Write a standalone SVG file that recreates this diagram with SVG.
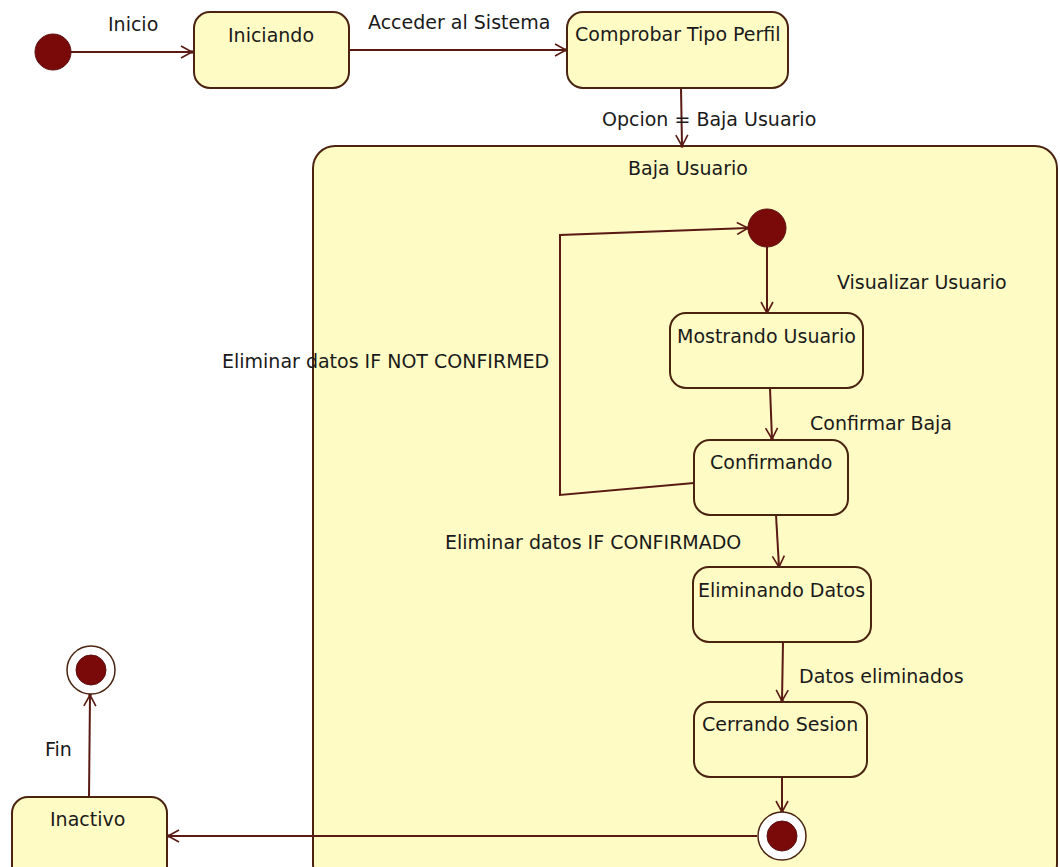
<svg xmlns="http://www.w3.org/2000/svg" width="1060" height="867" viewBox="0 0 1060 867">
<defs>
<style>
.st{fill:#FFFBC4;stroke:#4a2410;stroke-width:2}
.cmp{fill:#FFFBC4;stroke:#4a2410;stroke-width:2}
.t{font-family:"DejaVu Sans",Verdana,sans-serif;font-size:19px;fill:#1a1a1a}
.c{fill:none;stroke:#5a1a14;stroke-width:2}
.dot{fill:#7a0a0a;stroke:#5a1010;stroke-width:1}
.ring{fill:#ffffff;stroke:#4a2410;stroke-width:1.5}
</style>
<marker id="ah" viewBox="-12 -7 14 14" refX="0" refY="0" markerWidth="14" markerHeight="14" markerUnits="userSpaceOnUse" orient="auto">
<path d="M-11,-6 L0,0 L-11,6" fill="none" stroke="#5a1a14" stroke-width="1.6"/>
<circle cx="0" cy="0" r="1.8" fill="#5a1a14"/>
</marker>
</defs>
<rect width="1060" height="867" fill="#ffffff"/>

<g id="composite-baja-usuario">
<rect class="cmp" x="313" y="146" width="744" height="740" rx="22"/>
<text class="t" x="628" y="175">Baja Usuario</text>
</g>

<g id="connectors">
<path class="c" d="M71,52 L192,52" marker-end="url(#ah)"/>
<text class="t" x="108" y="31">Inicio</text>
<path class="c" d="M349,50 L566,50" marker-end="url(#ah)"/>
<text class="t" x="368" y="29">Acceder al Sistema</text>
<path class="c" d="M681,88 L682,146" marker-end="url(#ah)"/>
<text class="t" x="602" y="126">Opcion = Baja Usuario</text>
<path class="c" d="M767,247 L767,313" marker-end="url(#ah)"/>
<text class="t" x="837" y="289">Visualizar Usuario</text>
<path class="c" d="M770,388 L772,439" marker-end="url(#ah)"/>
<text class="t" x="810" y="430">Confirmar Baja</text>
<path class="c" d="M694,483 L560,495 L560,235 L748,228" marker-end="url(#ah)"/>
<text class="t" x="222" y="368">Eliminar datos IF NOT CONFIRMED</text>
<path class="c" d="M776,515 L779,567" marker-end="url(#ah)"/>
<text class="t" x="445" y="549">Eliminar datos IF CONFIRMADO</text>
<path class="c" d="M783,642 L782,701" marker-end="url(#ah)"/>
<text class="t" x="799" y="683">Datos eliminados</text>
<path class="c" d="M782,777 L782,812" marker-end="url(#ah)"/>
<path class="c" d="M757,836 L168,836" marker-end="url(#ah)"/>
<path class="c" d="M89,797 L90,695" marker-end="url(#ah)"/>
<text class="t" x="45" y="756">Fin</text>
</g>

<g id="initial">
<circle class="dot" cx="53" cy="52" r="18"/>
</g>

<g id="iniciando">
<rect class="st" x="194" y="12" width="155" height="76" rx="16"/>
<text class="t" x="228" y="42">Iniciando</text>
</g>

<g id="comprobar-tipo-perfil">
<rect class="st" x="567" y="12" width="221" height="76" rx="16"/>
<text class="t" x="575" y="41">Comprobar Tipo Perfil</text>
</g>

<g id="inner-initial">
<circle class="dot" cx="767" cy="228" r="19"/>
</g>

<g id="mostrando-usuario">
<rect class="st" x="670" y="313" width="193" height="75" rx="16"/>
<text class="t" x="677" y="343">Mostrando Usuario</text>
</g>

<g id="confirmando">
<rect class="st" x="694" y="440" width="154" height="75" rx="16"/>
<text class="t" x="710" y="469">Confirmando</text>
</g>

<g id="eliminando-datos">
<rect class="st" x="693" y="567" width="178" height="75" rx="16"/>
<text class="t" x="698" y="597">Eliminando Datos</text>
</g>

<g id="cerrando-sesion">
<rect class="st" x="694" y="702" width="173" height="75" rx="16"/>
<text class="t" x="702" y="731">Cerrando Sesion</text>
</g>

<g id="inner-final">
<circle class="ring" cx="782" cy="836" r="24"/>
<circle class="dot" cx="782" cy="836" r="15"/>
</g>

<g id="inactivo">
<rect class="st" x="12" y="797" width="155" height="90" rx="16"/>
<text class="t" x="50" y="826">Inactivo</text>
</g>

<g id="final">
<circle class="ring" cx="91" cy="670" r="24"/>
<circle class="dot" cx="91" cy="670" r="15"/>
</g>
</svg>
